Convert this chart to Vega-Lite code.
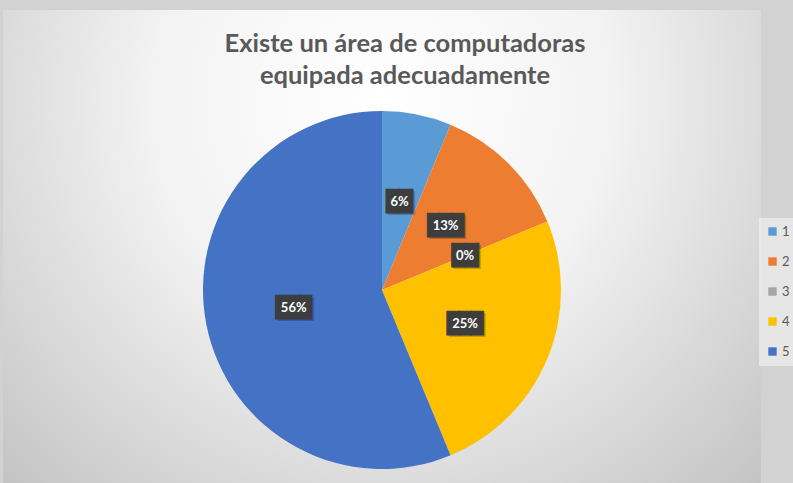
{
  "$schema": "https://vega.github.io/schema/vega-lite/v6.json",
  "width": 758,
  "height": 560,
  "autosize": "none",
  "padding": {"left": 3, "top": 10, "right": 32, "bottom": 0},
  "background": "#d2d2d2",
  "config": {"view": {"stroke": null}},
  "title": {
    "text": ["Existe un área de computadoras", "equipada adecuadamente"],
    "font": "Lato",
    "fontSize": 25.5,
    "fontWeight": "bold",
    "color": "#595959",
    "lineHeight": 32,
    "offset": -79,
    "dx": 23
  },
  "layer": [
    {
      "data": {"values": [{"bg": 1}]},
      "mark": {
        "type": "rect",
        "fill": {
          "gradient": "radial",
          "x1": 0.5, "y1": 0.25, "r1": 0,
          "x2": 0.5, "y2": 0.25, "r2": 0.75,
          "stops": [
            {"offset": 0, "color": "#ffffff"},
            {"offset": 0.4, "color": "#f3f3f3"},
            {"offset": 1, "color": "#bfbfbf"}
          ]
        }
      }
    },
    {
      "data": {"name": "pie", "values": [
        {"cat": "1", "value": 1, "label": "6%"},
        {"cat": "2", "value": 2, "label": "13%"},
        {"cat": "3", "value": 0, "label": "0%"},
        {"cat": "4", "value": 4, "label": "25%"},
        {"cat": "5", "value": 9, "label": "56%"}
      ]},
      "transform": [
        {"calculate": "length(datum.label) > 2 ? '███' : '▕██▏'", "as": "box"}
      ],
      "encoding": {
        "theta": {"field": "value", "type": "quantitative", "stack": true},
        "order": {"field": "cat", "type": "ordinal", "sort": "ascending"}
      },
      "layer": [
        {
          "mark": {"type": "arc", "outerRadius": 179},
          "encoding": {
            "color": {
              "field": "cat",
              "type": "nominal",
              "scale": {
                "domain": ["1", "2", "3", "4", "5"],
                "range": ["#5B9BD5", "#ED7D31", "#A5A5A5", "#FFC000", "#4472C4"]
              },
              "legend": {
                "orient": "none",
                "legendX": 756,
                "legendY": 208,
                "title": null,
                "symbolType": "square",
                "symbolSize": 70,
                "symbolStrokeWidth": 0,
                "labelFont": "Lato",
                "labelFontSize": 13,
                "labelColor": "#595959",
                "labelOffset": 3,
                "rowPadding": 16,
                "padding": 7,
                "fillColor": "rgba(255,255,255,0.45)"
              }
            }
          }
        },
        {
          "mark": {"type": "text", "radius": 90, "font": "DejaVu Sans Mono", "fontSize": 20, "baseline": "middle", "align": "center", "color": "#000000", "opacity": 0.2, "dx": 2, "dy": 2},
          "encoding": {"text": {"field": "box"}, "detail": {"field": "cat"}}
        },
        {
          "mark": {"type": "text", "radius": 90, "font": "DejaVu Sans Mono", "fontSize": 20, "baseline": "middle", "align": "center", "color": "#3d3d3d", "stroke": "#3d3d3d", "strokeWidth": 1},
          "encoding": {"text": {"field": "box"}, "detail": {"field": "cat"}}
        },
        {
          "mark": {"type": "text", "radius": 90, "font": "Lato", "fontSize": 13, "fontWeight": "bold", "baseline": "middle", "align": "center", "color": "#ffffff"},
          "encoding": {"text": {"field": "label"}, "detail": {"field": "cat"}}
        }
      ]
    }
  ]
}
